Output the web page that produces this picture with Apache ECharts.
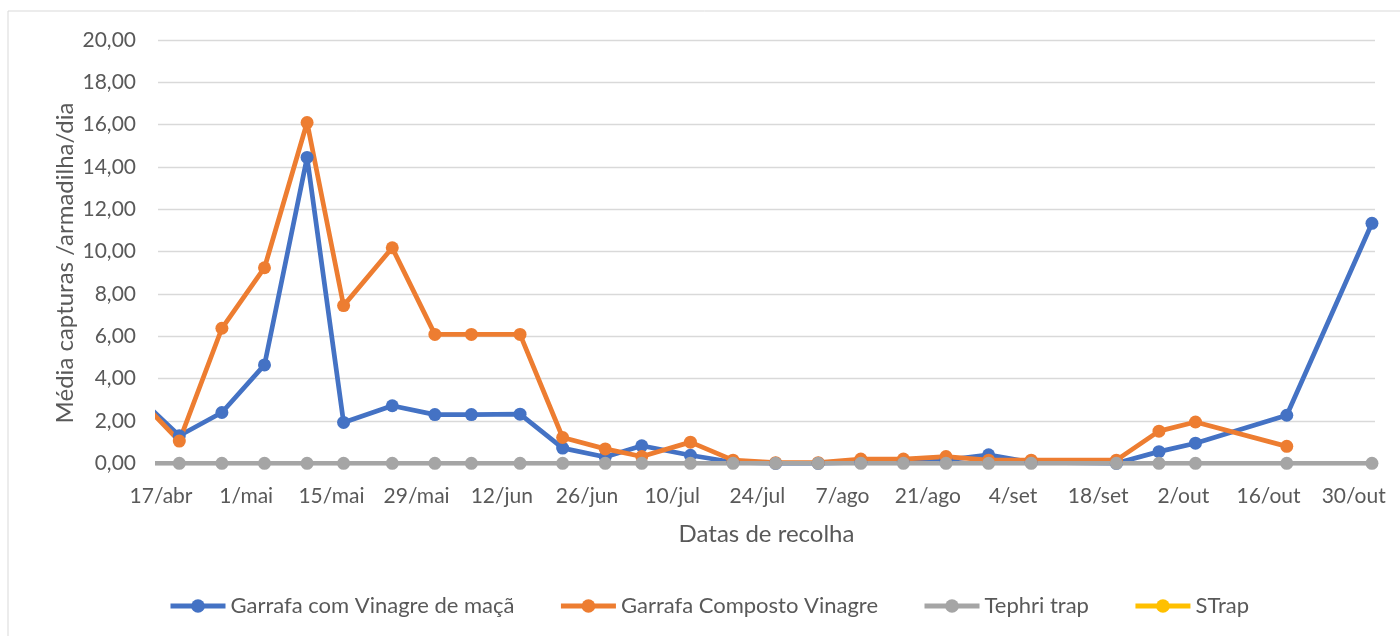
<!DOCTYPE html>
<html>
<head>
<meta charset="utf-8">
<script src="https://cdn.jsdelivr.net/npm/echarts@6/dist/echarts.min.js"></script>
<style>
html,body{margin:0;padding:0;background:#fff;}
#chart{width:1400px;height:636px;}
</style>
</head>
<body>
<div id="chart"></div>
<script>
// Collection dates (first one lies before the axis start and is clipped)
const dates = ['2021-04-13','2021-04-20','2021-04-27','2021-05-04','2021-05-11','2021-05-17','2021-05-25',
  '2021-06-01','2021-06-07','2021-06-15','2021-06-22','2021-06-29','2021-07-05','2021-07-13','2021-07-20',
  '2021-07-27','2021-08-03','2021-08-10','2021-08-17','2021-08-24','2021-08-31','2021-09-07','2021-09-21',
  '2021-09-28','2021-10-04','2021-10-19','2021-11-02'];
const garrafaMaca = [3.2,1.3,2.4,4.65,14.45,1.93,2.72,2.3,2.3,2.32,0.72,0.3,0.83,0.38,0.05,0,0,0.05,0.1,0.15,0.4,0.05,0,0.55,0.95,2.27,11.34];
const garrafaComposto = [3.15,1.05,6.38,9.24,16.1,7.45,10.18,6.09,6.09,6.09,1.22,0.68,0.32,1.0,0.15,0.03,0.03,0.2,0.2,0.32,0.15,0.15,0.15,1.52,1.95,0.8,null];
const tephriTrap = [0,0,0,0,0,0,0,0,0,0,0,0,0,0,0,0,0,0,0,0,0,0,0,0,0,0,0];
const sTrap = [];
const tickLabels = ['17/abr','1/mai','15/mai','29/mai','12/jun','26/jun','10/jul','24/jul','7/ago','21/ago','4/set','18/set','2/out','16/out','30/out'];
const seriesNames = ['Garrafa com Vinagre de maçã','Garrafa Composto Vinagre','Tephri trap','STrap'];
const colors = ['#4472C4','#ED7D31','#A5A5A5','#FFC000'];

const base = Date.UTC(2021,3,17);
const dayOf = s => Math.round((Date.parse(s + 'T00:00:00Z') - base) / 86400000);
const xs = dates.map(dayOf);
const pairs = arr => arr.map((v, i) => [xs[i], v]).filter(p => p[1] !== null && p[1] !== undefined);
const tickDays = tickLabels.map((_, i) => i * 14);

const FONT = 'Lato';
const TXT = '#595959';

const chart = echarts.init(document.getElementById('chart'), null, {renderer: 'canvas'});
const mkSeries = (name, data, color) => ({
  name, type: 'line', data, color,
  symbol: 'circle', symbolSize: 13, showAllSymbol: true,
  lineStyle: {width: 4.75, color},
  itemStyle: {color},
  clip: true,
  emphasis: {disabled: true}
});
chart.setOption({
  animation: false,
  textStyle: {fontFamily: FONT},
  graphic: [
    {type: 'rect', shape: {x: 8, y: 11, width: 1420, height: 700}, style: {fill: 'none', stroke: '#d9d9d9', lineWidth: 1}, silent: true},
    {type: 'text', x: 65, y: 263, rotation: Math.PI / 2,
     style: {text: 'Média capturas /armadilha/dia', fill: TXT, font: '24px Lato', align: 'center', verticalAlign: 'middle'}}
  ],
  grid: {left: 158, right: 25, top: 40, bottom: 172.7, containLabel: false},
  legend: {
    data: seriesNames, left: 163, top: 590,
    itemWidth: 55, itemHeight: 17, itemGap: 44,
    lineStyle: {width: 5},
    textStyle: {color: TXT, fontSize: 22, fontFamily: FONT}
  },
  xAxis: {
    type: 'value', min: -0.5, max: 199.5,
    name: 'Datas de recolha', nameLocation: 'middle', nameGap: 59,
    nameTextStyle: {color: TXT, fontSize: 24, fontFamily: FONT},
    axisLine: {show: true, lineStyle: {color: '#d9d9d9', width: 1.3}},
    axisTick: {show: false},
    splitLine: {show: false},
    axisLabel: {
      customValues: tickDays, color: TXT, fontSize: 21, fontFamily: FONT, margin: 22,
      formatter: v => tickLabels[Math.round(v / 14)] || ''
    }
  },
  yAxis: {
    type: 'value', min: 0, max: 20, interval: 2,
    axisLine: {show: false}, axisTick: {show: false},
    splitLine: {lineStyle: {color: '#d9d9d9', width: 1.3}},
    axisLabel: {color: TXT, fontSize: 21, fontFamily: FONT, margin: 22,
      formatter: v => v.toFixed(2).replace('.', ',')}
  },
  series: [
    mkSeries(seriesNames[0], pairs(garrafaMaca), colors[0]),
    mkSeries(seriesNames[1], pairs(garrafaComposto), colors[1]),
    mkSeries(seriesNames[2], pairs(tephriTrap), colors[2]),
    mkSeries(seriesNames[3], pairs(sTrap), colors[3])
  ]
});
</script>
</body>
</html>
